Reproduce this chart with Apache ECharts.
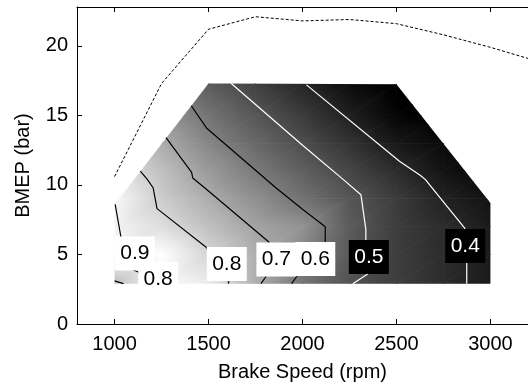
<!DOCTYPE html>
<html>
<head>
<meta charset="utf-8">
<script src="https://cdn.jsdelivr.net/npm/echarts@6.0.0/dist/echarts.min.js"></script>
<style>
  html, body { margin: 0; padding: 0; background: #fff; }
  #chart { width: 528px; height: 390px; }
</style>
</head>
<body>
<div id="chart"></div>
<script>
// shading grid, values (brake speed x BMEP)
const speeds = [1000, 1250, 1500, 1750, 2000, 2250, 2500, 2750, 3000];
const bmepRows = [2.9, 5, 7, 9, 11, 13, 15, 17.3];
const eff03 = [0.76, 0.90, 0.86, 0.72, 0.585, 0.51, 0.463, 0.42, 0.38];
const eff05 = [0.885, 0.905, 0.81, 0.72, 0.625, 0.525, 0.46, 0.42, 0.38];
const eff07 = [0.88, 0.83, 0.76, 0.694, 0.655, 0.53, 0.46, 0.42, 0.38];
const eff09 = [0.89, 0.79, 0.715, 0.648, 0.582, 0.517, 0.456, 0.397, 0.36];
const eff11 = [0.85, 0.76, 0.674, 0.601, 0.54, 0.48, 0.42, 0.363, 0.33];
const eff13 = [0.80, 0.714, 0.628, 0.559, 0.497, 0.436, 0.375, 0.34, 0.31];
const eff15 = [0.75, 0.665, 0.585, 0.518, 0.455, 0.392, 0.33, 0.31, 0.30];
const eff17 = [0.68, 0.60, 0.53, 0.468, 0.405, 0.345, 0.31, 0.30, 0.30];
const effRows = [eff03, eff05, eff07, eff09, eff11, eff13, eff15, eff17];

// measured region outline
const domain = [[1000, 2.9], [3000, 2.9], [3000, 8.7], [2500, 17.25], [1500, 17.3], [1000, 8.6]];

// contour lines
const c09 = [[1003, 8.6], [1032, 6.4], [1045, 5.2], [1060, 4.3]];
const c08 = [[1137, 11.0], [1174, 10.4], [1205, 9.8], [1226, 8.3], [1489, 5.5], [1610, 3.2], [1605, 2.9]];
const c08s = [[1095, 3.92], [1126, 3.74], [1150, 3.3], [1165, 2.9]];
const c08c = [[1000, 3.1], [1047, 2.9]];
const c07 = [[1274, 13.4], [1410, 10.9], [1416, 10.5], [1479, 9.8], [1821, 5.9], [1805, 3.4], [1779, 2.9]];
const c06 = [[1408, 15.7], [1489, 14.1], [1858, 9.8], [2005, 8.2], [2121, 7.0], [2121, 5.9], [1968, 3.4], [1942, 2.9]];
const c05 = [[1621, 17.3], [2005, 12.8], [2216, 10.4], [2311, 9.3], [2337, 6.8], [2337, 6.0], [2347, 3.6], [2268, 2.9]];
const c04 = [[2021, 17.2], [2516, 11.7], [2626, 10.7], [2653, 10.4], [2863, 6.9], [2874, 4.4], [2874, 2.9]];

// full load curve (dashed)
const fullLoadSpeed = [1000, 1250, 1500, 1750, 2000, 2250, 2500, 2750, 3000, 3200];
const fullLoadBmep = [10.6, 17.3, 21.2, 22.1, 21.8, 21.9, 21.6, 20.8, 19.9, 19.1];

// contour labels
const labelText = ['0.9', '0.8', '0.8', '0.7', '0.6', '0.5', '0.4'];
const labelSpeed = [1108, 1232, 1597, 1861, 2068, 2353, 2866];
const labelBmep = [5.07, 3.24, 4.32, 4.64, 4.68, 4.82, 5.61];
const labelDark = [0, 0, 0, 0, 0, 1, 1];

const xTicks = [1000, 1500, 2000, 2500, 3000];
const yTicks = [0, 5, 10, 15, 20];

const FONT = "'Liberation Sans', Arial, sans-serif";
const V_BLACK = 0.32, V_WHITE = 0.905;

function grayOf(v) {
    let t = (v - V_BLACK) / (V_WHITE - V_BLACK);
    t = Math.max(0, Math.min(1, t));
    const g = Math.round(t * 255);
    return 'rgb(' + g + ',' + g + ',' + g + ')';
}

function triFill(pts, vals) {
    const p0 = pts[0], p1 = pts[1], p2 = pts[2];
    const v0 = vals[0], v1 = vals[1], v2 = vals[2];
    const dx1 = p1[0] - p0[0], dy1 = p1[1] - p0[1], dv1 = v1 - v0;
    const dx2 = p2[0] - p0[0], dy2 = p2[1] - p0[1], dv2 = v2 - v0;
    const det = dx1 * dy2 - dx2 * dy1;
    const lo = Math.min(v0, v1, v2), hi = Math.max(v0, v1, v2);
    if (Math.abs(det) < 1e-9 || hi - lo < 1e-6) return grayOf((v0 + v1 + v2) / 3);
    const a = (dv1 * dy2 - dv2 * dy1) / det;
    const b = (dx1 * dv2 - dx2 * dv1) / det;
    const g2 = a * a + b * b;
    if (g2 < 1e-14) return grayOf((v0 + v1 + v2) / 3);
    const s = (lo - v0) / g2, e = (hi - v0) / g2;
    const stops = [];
    for (let k = 0; k <= 6; k++) {
        const t = k / 6;
        stops.push({ offset: t, color: grayOf(lo + t * (hi - lo)) });
    }
    return {
        type: 'linear', global: true,
        x: p0[0] + a * s, y: p0[1] + b * s,
        x2: p0[0] + a * e, y2: p0[1] + b * e,
        colorStops: stops
    };
}

function tri(pts, vals) {
    return {
        type: 'polygon',
        shape: { points: pts },
        style: { fill: triFill(pts, vals), stroke: triFill(pts, vals), lineWidth: 0.8 }
    };
}

const cells = [];
for (let j = 0; j < bmepRows.length - 1; j++) {
    for (let i = 0; i < speeds.length - 1; i++) {
        cells.push([speeds[i], bmepRows[j], i, j]);
    }
}

function renderCell(params, api) {
    const i = api.value(2), j = api.value(3);
    const pA = api.coord([speeds[i], bmepRows[j]]);
    const pB = api.coord([speeds[i + 1], bmepRows[j]]);
    const pC = api.coord([speeds[i + 1], bmepRows[j + 1]]);
    const pD = api.coord([speeds[i], bmepRows[j + 1]]);
    const vA = effRows[j][i], vB = effRows[j][i + 1];
    const vC = effRows[j + 1][i + 1], vD = effRows[j + 1][i];
    const clip = domain.map(function (d) { return api.coord(d); });
    return {
        type: 'group',
        clipPath: { type: 'polygon', shape: { points: clip } },
        children: [
            tri([pA, pB, pC], [vA, vB, vC]),
            tri([pA, pC, pD], [vA, vC, vD])
        ]
    };
}

function contour(pts, color) {
    return {
        type: 'line', data: pts, symbol: 'none', silent: true, z: 3,
        lineStyle: { color: color, width: 1.2 }
    };
}

const labelData = labelSpeed.map(function (s, i) {
    const dark = labelDark[i] === 1;
    return {
        value: [s, labelBmep[i]],
        itemStyle: { color: dark ? '#000' : '#fff', opacity: 1 },
        label: { color: dark ? '#fff' : '#000' }
    };
});

const axisCommon = {
    type: 'value',
    axisLine: { onZero: false, lineStyle: { color: '#000', width: 1 } },
    splitLine: { show: false }
};

const plain = function (v) { return String(v); };

const option = {
    animation: false,
    grid: { left: 77, right: -4, top: 7, bottom: 66 },
    xAxis: [
        Object.assign({}, axisCommon, {
            min: 800, max: 3200, position: 'bottom',
            name: 'Brake Speed (rpm)', nameLocation: 'middle', nameGap: 38,
            nameTextStyle: { fontSize: 20, color: '#000', fontFamily: FONT },
            axisTick: { inside: true, length: 5, customValues: xTicks, lineStyle: { color: '#000' } },
            axisLabel: { customValues: xTicks, formatter: plain, fontSize: 20, color: '#000', fontFamily: FONT, margin: 10 }
        }),
        Object.assign({}, axisCommon, {
            min: 800, max: 3200, position: 'top',
            axisTick: { inside: true, length: 5, customValues: xTicks, lineStyle: { color: '#000' } },
            axisLabel: { show: false }
        })
    ],
    yAxis: [
        Object.assign({}, axisCommon, {
            min: 0, max: 22.8, position: 'left',
            name: 'BMEP (bar)', nameLocation: 'middle', nameGap: 44, nameRotate: 90,
            nameTextStyle: { fontSize: 20, color: '#000', fontFamily: FONT },
            axisTick: { inside: true, length: 5, customValues: yTicks, lineStyle: { color: '#000' } },
            axisLabel: { customValues: yTicks, formatter: plain, fontSize: 20, color: '#000', fontFamily: FONT, margin: 9 }
        })
    ],
    series: [
        {
            type: 'custom', data: cells, renderItem: renderCell, silent: true, z: 1,
            encode: { x: 0, y: 1 }
        },
        contour(c09, '#000'),
        contour(c08, '#000'),
        contour(c08s, '#000'),
        contour(c08c, '#000'),
        contour(c07, '#000'),
        contour(c06, '#000'),
        contour(c05, '#fff'),
        contour(c04, '#fff'),
        {
            type: 'line', z: 4, silent: true, symbol: 'none',
            data: fullLoadSpeed.map(function (s, i) { return [s, fullLoadBmep[i]]; }),
            lineStyle: { color: '#000', width: 1, type: [3, 2] }
        },
        {
            type: 'scatter', z: 5, silent: true,
            symbol: 'rect', symbolSize: [40, 34],
            data: labelData,
            label: {
                show: true, position: 'inside', fontSize: 21, fontFamily: FONT,
                formatter: function (p) { return labelText[p.dataIndex]; }
            }
        }
    ]
};

const chart = echarts.init(document.getElementById('chart'), null, { renderer: 'canvas' });
chart.setOption(option);
</script>
</body>
</html>
